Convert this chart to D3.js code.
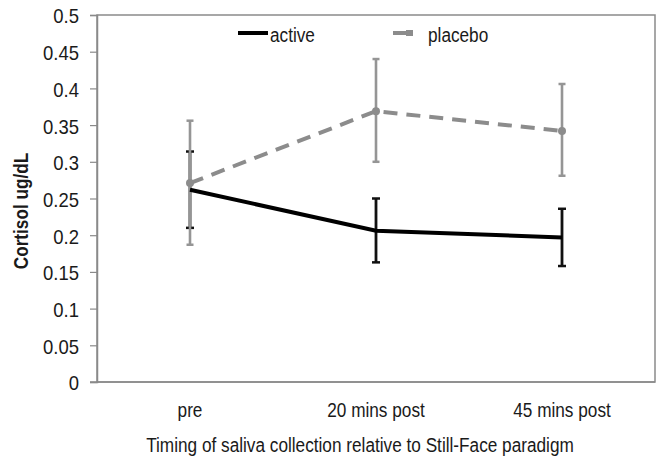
<!DOCTYPE html>
<html>
<head>
<meta charset="utf-8">
<script src="https://cdn.jsdelivr.net/npm/d3@7"></script>
<style>
body { margin: 0; background: #fff; }
text { font-family: "Liberation Sans", Arial, sans-serif; fill: #1a1a1a; }
</style>
</head>
<body>
<script>
// data
var categories = ["pre", "20 mins post", "45 mins post"]
var activeMean = [0.262, 0.206, 0.197]
var activeLow = [0.210, 0.163, 0.158]
var activeHigh = [0.314, 0.250, 0.236]
var placeboMean = [0.271, 0.369, 0.342]
var placeboLow = [0.187, 0.300, 0.281]
var placeboHigh = [0.356, 0.440, 0.406]
var yTicks = [0, 0.05, 0.1, 0.15, 0.2, 0.25, 0.3, 0.35, 0.4, 0.45, 0.5]

var W = 666, H = 461
var margin = {top: 15, right: 11, bottom: 79, left: 97}

// the source figure uses a narrow face, squeeze text horizontally
function squeeze(sel, k) {
	sel.each(function() {
		var w = this.getComputedTextLength()
		d3.select(this).attr('textLength', w*k).attr('lengthAdjust', 'spacingAndGlyphs')
	})
}

var svg = d3.select('body')
	.append('svg')
	.attr('width', W)
	.attr('height', H)

var x = d3.scaleBand()
	.domain(categories)
	.range([margin.left, W - margin.right])

var y = d3.scaleLinear()
	.domain([0, 0.5])
	.range([H - margin.bottom, margin.top])

var cx = function(i) { return x(categories[i]) + x.bandwidth()/2 }

// frame
svg.append('rect')
	.attr('x', margin.left)
	.attr('y', margin.top)
	.attr('width', W - margin.left - margin.right)
	.attr('height', H - margin.top - margin.bottom)
	.attr('fill', 'none')
	.style('stroke', '#8a8a8a')
	.style('stroke-width', 1.5)

// y axis
var yAxis = svg.append('g')
	.attr('transform', 'translate(' + margin.left + ',0)')
	.call(d3.axisLeft(y).tickValues(yTicks).tickSize(7).tickPadding(11).tickFormat(d3.format('')))
yAxis.select('.domain').style('stroke', '#8a8a8a').style('stroke-width', 1.5)
yAxis.selectAll('.tick line').style('stroke', '#8a8a8a').style('stroke-width', 1.2)
yAxis.selectAll('.tick text').style('font-size', '21px').attr('fill', '#2a2a2a').attr('dy', '0.38em')
	.call(squeeze, 0.88)

// x axis (labels only)
var xAxis = svg.append('g')
	.attr('transform', 'translate(0,' + (H - margin.bottom) + ')')
	.call(d3.axisBottom(x).tickSize(0).tickPadding(21))
xAxis.select('.domain').remove()
xAxis.selectAll('.tick text').style('font-size', '20px').attr('fill', '#1a1a1a')
	.call(squeeze, 0.86)

// bottom line extends left past the frame like a tick
svg.append('line')
	.attr('x1', margin.left - 7)
	.attr('x2', W - margin.right)
	.attr('y1', y(0))
	.attr('y2', y(0))
	.style('stroke', '#8a8a8a')
	.style('stroke-width', 1.5)

// axis titles
svg.append('text')
	.attr('x', 360)
	.attr('y', 452)
	.attr('text-anchor', 'middle')
	.style('font-size', '20px')
	.text('Timing of saliva collection relative to Still-Face paradigm')
	.call(squeeze, 0.86)

svg.append('text')
	.attr('transform', 'translate(28,' + 211 + ') rotate(-90)')
	.attr('text-anchor', 'middle')
	.style('font-size', '20px')
	.style('font-weight', 'bold')
	.text('Cortisol ug/dL')
	.call(squeeze, 0.86)

var idx = d3.range(categories.length)

function errorBars(low, high, color, width, cap) {
	var g = svg.append('g')
	g.selectAll('line.v').data(idx).enter().append('line')
		.attr('x1', cx).attr('x2', cx)
		.attr('y1', function(i) { return y(low[i]) })
		.attr('y2', function(i) { return y(high[i]) })
		.style('stroke', color).style('stroke-width', width)
	;[low, high].forEach(function(arr) {
		g.selectAll(null).data(idx).enter().append('line')
			.attr('x1', function(i) { return cx(i) - cap }).attr('x2', function(i) { return cx(i) + cap })
			.attr('y1', function(i) { return y(arr[i]) })
			.attr('y2', function(i) { return y(arr[i]) })
			.style('stroke', color).style('stroke-width', 2.5)
	})
}

var line = d3.line()
	.x(function(d, i) { return cx(i) })
	.y(function(d) { return y(d) })

// active
errorBars(activeLow, activeHigh, '#111', 2.8, 4)
// placebo
errorBars(placeboLow, placeboHigh, '#959595', 2.6, 3.5)

svg.append('path')
	.datum(placeboMean)
	.attr('d', line)
	.attr('fill', 'none')
	.style('stroke', '#8c8c8c')
	.style('stroke-width', 4)
	.style('stroke-dasharray', '14,9')

svg.selectAll('circle.pl').data(placeboMean).enter().append('circle')
	.attr('cx', function(d, i) { return cx(i) })
	.attr('cy', function(d) { return y(d) })
	.attr('r', 4)
	.attr('fill', '#8c8c8c')

svg.append('path')
	.datum(activeMean)
	.attr('d', line)
	.attr('fill', 'none')
	.style('stroke', '#000')
	.style('stroke-width', 4)

// legend
var lg = svg.append('g')
lg.append('line')
	.attr('x1', 238).attr('x2', 268).attr('y1', 33).attr('y2', 33)
	.style('stroke', '#000').style('stroke-width', 4)
lg.append('text')
	.attr('x', 270).attr('y', 42)
	.style('font-size', '20px')
	.text('active')
	.call(squeeze, 0.86)
lg.append('line')
	.attr('x1', 393).attr('x2', 408).attr('y1', 33).attr('y2', 33)
	.style('stroke', '#8c8c8c').style('stroke-width', 4)
lg.append('rect')
	.attr('x', 406).attr('y', 30).attr('width', 7).attr('height', 6)
	.attr('fill', '#8c8c8c')
lg.append('text')
	.attr('x', 428).attr('y', 42)
	.style('font-size', '20px')
	.text('placebo')
	.call(squeeze, 0.86)
</script>
</body>
</html>
